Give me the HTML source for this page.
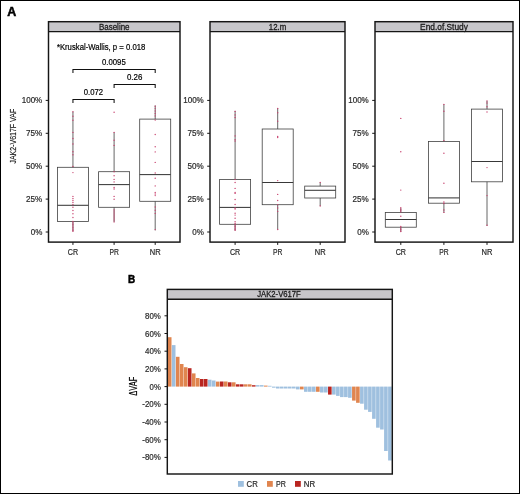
<!DOCTYPE html>
<html><head><meta charset="utf-8"><style>
html,body{margin:0;padding:0;background:#fff;width:520px;height:494px;overflow:hidden;}
svg{display:block;will-change:transform;}
</style></head><body>
<svg width="520" height="494" viewBox="0 0 520 494"><rect x="0.5" y="0.5" width="519" height="493" fill="none" stroke="#000" stroke-width="1"/>
<text x="7.3" y="15.6" font-family='"Liberation Sans", sans-serif' font-weight="bold" font-size="12.2" fill="#000" stroke="#000" stroke-width="0.5" textLength="9.0" lengthAdjust="spacingAndGlyphs">A</text>
<text x="128.0" y="282.6" font-family='"Liberation Sans", sans-serif' font-weight="bold" font-size="11" fill="#000" stroke="#000" stroke-width="0.5" textLength="7.2" lengthAdjust="spacingAndGlyphs">B</text>
<rect x="48.5" y="21.7" width="131.5" height="9.8" fill="#c7c6ca"/>
<line x1="48.5" y1="31.5" x2="180" y2="31.5" stroke="#151515" stroke-width="1.25"/>
<text x="114.25" y="29.7" text-anchor="middle" font-family='"Liberation Sans", sans-serif' font-size="8.8" fill="#1a1a1a" stroke="#1a1a1a" stroke-width="0.28" textLength="30.6" lengthAdjust="spacingAndGlyphs">Baseline</text>
<rect x="48.5" y="21.7" width="131.5" height="220.4" fill="none" stroke="#151515" stroke-width="1.45"/>
<line x1="45.7" y1="100.4" x2="48.5" y2="100.4" stroke="#151515" stroke-width="1"/>
<text x="42.3" y="103.4" text-anchor="end" font-family='"Liberation Sans", sans-serif' font-size="8.2" fill="#2a2a2a" textLength="20.6" lengthAdjust="spacingAndGlyphs" stroke="#2a2a2a" stroke-width="0.2">100%</text>
<line x1="45.7" y1="133.3" x2="48.5" y2="133.3" stroke="#151515" stroke-width="1"/>
<text x="42.3" y="136.3" text-anchor="end" font-family='"Liberation Sans", sans-serif' font-size="8.2" fill="#2a2a2a" textLength="16.2" lengthAdjust="spacingAndGlyphs" stroke="#2a2a2a" stroke-width="0.2">75%</text>
<line x1="45.7" y1="166.2" x2="48.5" y2="166.2" stroke="#151515" stroke-width="1"/>
<text x="42.3" y="169.2" text-anchor="end" font-family='"Liberation Sans", sans-serif' font-size="8.2" fill="#2a2a2a" textLength="16.2" lengthAdjust="spacingAndGlyphs" stroke="#2a2a2a" stroke-width="0.2">50%</text>
<line x1="45.7" y1="199.1" x2="48.5" y2="199.1" stroke="#151515" stroke-width="1"/>
<text x="42.3" y="202.1" text-anchor="end" font-family='"Liberation Sans", sans-serif' font-size="8.2" fill="#2a2a2a" textLength="16.2" lengthAdjust="spacingAndGlyphs" stroke="#2a2a2a" stroke-width="0.2">25%</text>
<line x1="45.7" y1="232.0" x2="48.5" y2="232.0" stroke="#151515" stroke-width="1"/>
<text x="42.3" y="235.0" text-anchor="end" font-family='"Liberation Sans", sans-serif' font-size="8.2" fill="#2a2a2a" textLength="11.6" lengthAdjust="spacingAndGlyphs" stroke="#2a2a2a" stroke-width="0.2">0%</text>
<line x1="72.95" y1="242.1" x2="72.95" y2="244.9" stroke="#151515" stroke-width="1"/>
<text x="72.95" y="255.3" text-anchor="middle" font-family='"Liberation Sans", sans-serif' font-size="8.4" fill="#2a2a2a" textLength="10.3" lengthAdjust="spacingAndGlyphs" stroke="#2a2a2a" stroke-width="0.2">CR</text>
<line x1="114.1" y1="242.1" x2="114.1" y2="244.9" stroke="#151515" stroke-width="1"/>
<text x="114.1" y="255.3" text-anchor="middle" font-family='"Liberation Sans", sans-serif' font-size="8.4" fill="#2a2a2a" textLength="9.4" lengthAdjust="spacingAndGlyphs" stroke="#2a2a2a" stroke-width="0.2">PR</text>
<line x1="155.2" y1="242.1" x2="155.2" y2="244.9" stroke="#151515" stroke-width="1"/>
<text x="155.2" y="255.3" text-anchor="middle" font-family='"Liberation Sans", sans-serif' font-size="8.4" fill="#2a2a2a" textLength="10.9" lengthAdjust="spacingAndGlyphs" stroke="#2a2a2a" stroke-width="0.2">NR</text>
<rect x="210" y="21.7" width="135" height="9.8" fill="#c7c6ca"/>
<line x1="210" y1="31.5" x2="345" y2="31.5" stroke="#151515" stroke-width="1.25"/>
<text x="277.5" y="29.7" text-anchor="middle" font-family='"Liberation Sans", sans-serif' font-size="8.8" fill="#1a1a1a" stroke="#1a1a1a" stroke-width="0.28" textLength="17.4" lengthAdjust="spacingAndGlyphs">12.m</text>
<rect x="210" y="21.7" width="135" height="220.4" fill="none" stroke="#151515" stroke-width="1.45"/>
<line x1="207.2" y1="100.4" x2="210" y2="100.4" stroke="#151515" stroke-width="1"/>
<text x="203.8" y="103.4" text-anchor="end" font-family='"Liberation Sans", sans-serif' font-size="8.2" fill="#2a2a2a" textLength="20.6" lengthAdjust="spacingAndGlyphs" stroke="#2a2a2a" stroke-width="0.2">100%</text>
<line x1="207.2" y1="133.3" x2="210" y2="133.3" stroke="#151515" stroke-width="1"/>
<text x="203.8" y="136.3" text-anchor="end" font-family='"Liberation Sans", sans-serif' font-size="8.2" fill="#2a2a2a" textLength="16.2" lengthAdjust="spacingAndGlyphs" stroke="#2a2a2a" stroke-width="0.2">75%</text>
<line x1="207.2" y1="166.2" x2="210" y2="166.2" stroke="#151515" stroke-width="1"/>
<text x="203.8" y="169.2" text-anchor="end" font-family='"Liberation Sans", sans-serif' font-size="8.2" fill="#2a2a2a" textLength="16.2" lengthAdjust="spacingAndGlyphs" stroke="#2a2a2a" stroke-width="0.2">50%</text>
<line x1="207.2" y1="199.1" x2="210" y2="199.1" stroke="#151515" stroke-width="1"/>
<text x="203.8" y="202.1" text-anchor="end" font-family='"Liberation Sans", sans-serif' font-size="8.2" fill="#2a2a2a" textLength="16.2" lengthAdjust="spacingAndGlyphs" stroke="#2a2a2a" stroke-width="0.2">25%</text>
<line x1="207.2" y1="232.0" x2="210" y2="232.0" stroke="#151515" stroke-width="1"/>
<text x="203.8" y="235.0" text-anchor="end" font-family='"Liberation Sans", sans-serif' font-size="8.2" fill="#2a2a2a" textLength="11.6" lengthAdjust="spacingAndGlyphs" stroke="#2a2a2a" stroke-width="0.2">0%</text>
<line x1="235.1" y1="242.1" x2="235.1" y2="244.9" stroke="#151515" stroke-width="1"/>
<text x="235.1" y="255.3" text-anchor="middle" font-family='"Liberation Sans", sans-serif' font-size="8.4" fill="#2a2a2a" textLength="10.3" lengthAdjust="spacingAndGlyphs" stroke="#2a2a2a" stroke-width="0.2">CR</text>
<line x1="277.7" y1="242.1" x2="277.7" y2="244.9" stroke="#151515" stroke-width="1"/>
<text x="277.7" y="255.3" text-anchor="middle" font-family='"Liberation Sans", sans-serif' font-size="8.4" fill="#2a2a2a" textLength="9.4" lengthAdjust="spacingAndGlyphs" stroke="#2a2a2a" stroke-width="0.2">PR</text>
<line x1="320.2" y1="242.1" x2="320.2" y2="244.9" stroke="#151515" stroke-width="1"/>
<text x="320.2" y="255.3" text-anchor="middle" font-family='"Liberation Sans", sans-serif' font-size="8.4" fill="#2a2a2a" textLength="10.9" lengthAdjust="spacingAndGlyphs" stroke="#2a2a2a" stroke-width="0.2">NR</text>
<rect x="375" y="21.7" width="138" height="9.8" fill="#c7c6ca"/>
<line x1="375" y1="31.5" x2="513" y2="31.5" stroke="#151515" stroke-width="1.25"/>
<text x="444.0" y="29.7" text-anchor="middle" font-family='"Liberation Sans", sans-serif' font-size="8.8" fill="#1a1a1a" stroke="#1a1a1a" stroke-width="0.28" textLength="47.8" lengthAdjust="spacingAndGlyphs">End.of.Study</text>
<rect x="375" y="21.7" width="138" height="220.4" fill="none" stroke="#151515" stroke-width="1.45"/>
<line x1="372.2" y1="100.4" x2="375" y2="100.4" stroke="#151515" stroke-width="1"/>
<text x="368.8" y="103.4" text-anchor="end" font-family='"Liberation Sans", sans-serif' font-size="8.2" fill="#2a2a2a" textLength="20.6" lengthAdjust="spacingAndGlyphs" stroke="#2a2a2a" stroke-width="0.2">100%</text>
<line x1="372.2" y1="133.3" x2="375" y2="133.3" stroke="#151515" stroke-width="1"/>
<text x="368.8" y="136.3" text-anchor="end" font-family='"Liberation Sans", sans-serif' font-size="8.2" fill="#2a2a2a" textLength="16.2" lengthAdjust="spacingAndGlyphs" stroke="#2a2a2a" stroke-width="0.2">75%</text>
<line x1="372.2" y1="166.2" x2="375" y2="166.2" stroke="#151515" stroke-width="1"/>
<text x="368.8" y="169.2" text-anchor="end" font-family='"Liberation Sans", sans-serif' font-size="8.2" fill="#2a2a2a" textLength="16.2" lengthAdjust="spacingAndGlyphs" stroke="#2a2a2a" stroke-width="0.2">50%</text>
<line x1="372.2" y1="199.1" x2="375" y2="199.1" stroke="#151515" stroke-width="1"/>
<text x="368.8" y="202.1" text-anchor="end" font-family='"Liberation Sans", sans-serif' font-size="8.2" fill="#2a2a2a" textLength="16.2" lengthAdjust="spacingAndGlyphs" stroke="#2a2a2a" stroke-width="0.2">25%</text>
<line x1="372.2" y1="232.0" x2="375" y2="232.0" stroke="#151515" stroke-width="1"/>
<text x="368.8" y="235.0" text-anchor="end" font-family='"Liberation Sans", sans-serif' font-size="8.2" fill="#2a2a2a" textLength="11.6" lengthAdjust="spacingAndGlyphs" stroke="#2a2a2a" stroke-width="0.2">0%</text>
<line x1="400.8" y1="242.1" x2="400.8" y2="244.9" stroke="#151515" stroke-width="1"/>
<text x="400.8" y="255.3" text-anchor="middle" font-family='"Liberation Sans", sans-serif' font-size="8.4" fill="#2a2a2a" textLength="10.3" lengthAdjust="spacingAndGlyphs" stroke="#2a2a2a" stroke-width="0.2">CR</text>
<line x1="443.9" y1="242.1" x2="443.9" y2="244.9" stroke="#151515" stroke-width="1"/>
<text x="443.9" y="255.3" text-anchor="middle" font-family='"Liberation Sans", sans-serif' font-size="8.4" fill="#2a2a2a" textLength="9.4" lengthAdjust="spacingAndGlyphs" stroke="#2a2a2a" stroke-width="0.2">PR</text>
<line x1="487.0" y1="242.1" x2="487.0" y2="244.9" stroke="#151515" stroke-width="1"/>
<text x="487.0" y="255.3" text-anchor="middle" font-family='"Liberation Sans", sans-serif' font-size="8.4" fill="#2a2a2a" textLength="10.9" lengthAdjust="spacingAndGlyphs" stroke="#2a2a2a" stroke-width="0.2">NR</text>
<text transform="translate(15.5,136.2) rotate(-90)" text-anchor="middle" font-family='"Liberation Sans", sans-serif' font-size="9.6" fill="#1a1a1a" stroke="#1a1a1a" stroke-width="0.2" textLength="54.8" lengthAdjust="spacingAndGlyphs">JAK2-V617F VAF</text>
<line x1="72.95" y1="111.7" x2="72.95" y2="167.3" stroke="#404040" stroke-width="0.8"/>
<line x1="72.95" y1="221.5" x2="72.95" y2="231.3" stroke="#404040" stroke-width="0.8"/>
<rect x="57.45" y="167.3" width="31.00" height="54.20" fill="none" stroke="#404040" stroke-width="0.8"/>
<line x1="57.45" y1="205.3" x2="88.45" y2="205.3" stroke="#383838" stroke-width="1.05"/>
<circle cx="72.95" cy="111.7" r="0.7" fill="#c8436f"/>
<circle cx="72.95" cy="116.2" r="0.7" fill="#c8436f"/>
<circle cx="72.95" cy="120.2" r="0.7" fill="#c8436f"/>
<circle cx="72.95" cy="132.4" r="0.7" fill="#c8436f"/>
<circle cx="72.95" cy="138.5" r="0.7" fill="#c8436f"/>
<circle cx="72.95" cy="144.0" r="0.7" fill="#c8436f"/>
<circle cx="72.95" cy="151.8" r="0.7" fill="#c8436f"/>
<circle cx="72.95" cy="154.7" r="0.7" fill="#c8436f"/>
<circle cx="72.95" cy="166.4" r="0.7" fill="#c8436f"/>
<circle cx="72.95" cy="172.6" r="0.7" fill="#c8436f"/>
<circle cx="72.95" cy="196.4" r="0.7" fill="#c8436f"/>
<circle cx="72.95" cy="198.5" r="0.7" fill="#c8436f"/>
<circle cx="72.95" cy="200.5" r="0.7" fill="#c8436f"/>
<circle cx="72.95" cy="202.4" r="0.7" fill="#c8436f"/>
<circle cx="72.95" cy="204.5" r="0.7" fill="#c8436f"/>
<circle cx="72.95" cy="207.3" r="0.7" fill="#c8436f"/>
<circle cx="72.95" cy="210.5" r="0.7" fill="#c8436f"/>
<circle cx="72.95" cy="213.8" r="0.7" fill="#c8436f"/>
<circle cx="72.95" cy="217.5" r="0.7" fill="#c8436f"/>
<circle cx="72.95" cy="221.5" r="0.7" fill="#c8436f"/>
<circle cx="72.95" cy="223" r="0.7" fill="#c8436f"/>
<circle cx="72.95" cy="224.5" r="0.7" fill="#c8436f"/>
<circle cx="72.95" cy="226" r="0.7" fill="#c8436f"/>
<circle cx="72.95" cy="227.5" r="0.7" fill="#c8436f"/>
<circle cx="72.95" cy="229" r="0.7" fill="#c8436f"/>
<circle cx="72.95" cy="230.3" r="0.7" fill="#c8436f"/>
<circle cx="72.95" cy="231.3" r="0.7" fill="#c8436f"/>
<line x1="114.1" y1="132.4" x2="114.1" y2="171.7" stroke="#404040" stroke-width="0.8"/>
<line x1="114.1" y1="207.3" x2="114.1" y2="221.9" stroke="#404040" stroke-width="0.8"/>
<rect x="98.60" y="171.7" width="31.00" height="35.60" fill="none" stroke="#404040" stroke-width="0.8"/>
<line x1="98.60" y1="184.6" x2="129.60" y2="184.6" stroke="#383838" stroke-width="1.05"/>
<circle cx="114.10" cy="112.2" r="0.7" fill="#c8436f"/>
<circle cx="114.10" cy="132.4" r="0.7" fill="#c8436f"/>
<circle cx="114.10" cy="140.2" r="0.7" fill="#c8436f"/>
<circle cx="114.10" cy="145.4" r="0.7" fill="#c8436f"/>
<circle cx="114.10" cy="171.7" r="0.7" fill="#c8436f"/>
<circle cx="114.10" cy="175.7" r="0.7" fill="#c8436f"/>
<circle cx="114.10" cy="179.4" r="0.7" fill="#c8436f"/>
<circle cx="114.10" cy="181.9" r="0.7" fill="#c8436f"/>
<circle cx="114.10" cy="187.5" r="0.7" fill="#c8436f"/>
<circle cx="114.10" cy="189" r="0.7" fill="#c8436f"/>
<circle cx="114.10" cy="196.4" r="0.7" fill="#c8436f"/>
<circle cx="114.10" cy="199.2" r="0.7" fill="#c8436f"/>
<circle cx="114.10" cy="210" r="0.7" fill="#c8436f"/>
<circle cx="114.10" cy="212" r="0.7" fill="#c8436f"/>
<circle cx="114.10" cy="214" r="0.7" fill="#c8436f"/>
<circle cx="114.10" cy="216" r="0.7" fill="#c8436f"/>
<circle cx="114.10" cy="218" r="0.7" fill="#c8436f"/>
<circle cx="114.10" cy="220" r="0.7" fill="#c8436f"/>
<circle cx="114.10" cy="221.9" r="0.7" fill="#c8436f"/>
<line x1="155.2" y1="105.4" x2="155.2" y2="119.1" stroke="#404040" stroke-width="0.8"/>
<line x1="155.2" y1="201.3" x2="155.2" y2="230.4" stroke="#404040" stroke-width="0.8"/>
<rect x="139.70" y="119.1" width="31.00" height="82.20" fill="none" stroke="#404040" stroke-width="0.8"/>
<line x1="139.70" y1="174.6" x2="170.70" y2="174.6" stroke="#383838" stroke-width="1.05"/>
<circle cx="155.20" cy="106.2" r="0.7" fill="#c8436f"/>
<circle cx="155.20" cy="108.6" r="0.7" fill="#c8436f"/>
<circle cx="155.20" cy="111" r="0.7" fill="#c8436f"/>
<circle cx="155.20" cy="113.5" r="0.7" fill="#c8436f"/>
<circle cx="155.20" cy="115.9" r="0.7" fill="#c8436f"/>
<circle cx="155.20" cy="120" r="0.7" fill="#c8436f"/>
<circle cx="155.20" cy="134.5" r="0.7" fill="#c8436f"/>
<circle cx="155.20" cy="146.7" r="0.7" fill="#c8436f"/>
<circle cx="155.20" cy="151.9" r="0.7" fill="#c8436f"/>
<circle cx="155.20" cy="162.4" r="0.7" fill="#c8436f"/>
<circle cx="155.20" cy="173" r="0.7" fill="#c8436f"/>
<circle cx="155.20" cy="178.3" r="0.7" fill="#c8436f"/>
<circle cx="155.20" cy="185.9" r="0.7" fill="#c8436f"/>
<circle cx="155.20" cy="192.4" r="0.7" fill="#c8436f"/>
<circle cx="155.20" cy="194" r="0.7" fill="#c8436f"/>
<circle cx="155.20" cy="195.6" r="0.7" fill="#c8436f"/>
<circle cx="155.20" cy="207" r="0.7" fill="#c8436f"/>
<circle cx="155.20" cy="210.2" r="0.7" fill="#c8436f"/>
<circle cx="155.20" cy="213.4" r="0.7" fill="#c8436f"/>
<circle cx="155.20" cy="229.6" r="0.7" fill="#c8436f"/>
<line x1="235.1" y1="110.8" x2="235.1" y2="179.5" stroke="#404040" stroke-width="0.8"/>
<line x1="235.1" y1="224.3" x2="235.1" y2="230.5" stroke="#404040" stroke-width="0.8"/>
<rect x="219.60" y="179.5" width="31.00" height="44.80" fill="none" stroke="#404040" stroke-width="0.8"/>
<line x1="219.60" y1="207.4" x2="250.60" y2="207.4" stroke="#383838" stroke-width="1.05"/>
<circle cx="235.10" cy="111.4" r="0.7" fill="#c8436f"/>
<circle cx="235.10" cy="114.9" r="0.7" fill="#c8436f"/>
<circle cx="235.10" cy="117.5" r="0.7" fill="#c8436f"/>
<circle cx="235.10" cy="135.9" r="0.7" fill="#c8436f"/>
<circle cx="235.10" cy="139.7" r="0.7" fill="#c8436f"/>
<circle cx="235.10" cy="141.1" r="0.7" fill="#c8436f"/>
<circle cx="235.10" cy="179.5" r="0.7" fill="#c8436f"/>
<circle cx="235.10" cy="182.5" r="0.7" fill="#c8436f"/>
<circle cx="235.10" cy="188.4" r="0.7" fill="#c8436f"/>
<circle cx="235.10" cy="192.4" r="0.7" fill="#c8436f"/>
<circle cx="235.10" cy="193.4" r="0.7" fill="#c8436f"/>
<circle cx="235.10" cy="199.5" r="0.7" fill="#c8436f"/>
<circle cx="235.10" cy="204.5" r="0.7" fill="#c8436f"/>
<circle cx="235.10" cy="208" r="0.7" fill="#c8436f"/>
<circle cx="235.10" cy="209" r="0.7" fill="#c8436f"/>
<circle cx="235.10" cy="213.3" r="0.7" fill="#c8436f"/>
<circle cx="235.10" cy="215.1" r="0.7" fill="#c8436f"/>
<circle cx="235.10" cy="218.2" r="0.7" fill="#c8436f"/>
<circle cx="235.10" cy="221.8" r="0.7" fill="#c8436f"/>
<circle cx="235.10" cy="223.5" r="0.7" fill="#c8436f"/>
<circle cx="235.10" cy="225" r="0.7" fill="#c8436f"/>
<circle cx="235.10" cy="226.5" r="0.7" fill="#c8436f"/>
<circle cx="235.10" cy="228" r="0.7" fill="#c8436f"/>
<circle cx="235.10" cy="229.3" r="0.7" fill="#c8436f"/>
<circle cx="235.10" cy="230.3" r="0.7" fill="#c8436f"/>
<line x1="277.7" y1="108.2" x2="277.7" y2="129" stroke="#404040" stroke-width="0.8"/>
<line x1="277.7" y1="204.7" x2="277.7" y2="229.5" stroke="#404040" stroke-width="0.8"/>
<rect x="262.20" y="129" width="31.00" height="75.70" fill="none" stroke="#404040" stroke-width="0.8"/>
<line x1="262.20" y1="182.5" x2="293.20" y2="182.5" stroke="#383838" stroke-width="1.05"/>
<circle cx="277.70" cy="108.5" r="0.7" fill="#c8436f"/>
<circle cx="277.70" cy="112.7" r="0.7" fill="#c8436f"/>
<circle cx="277.70" cy="121.2" r="0.7" fill="#c8436f"/>
<circle cx="277.70" cy="136.5" r="0.7" fill="#c8436f"/>
<circle cx="277.70" cy="137.5" r="0.7" fill="#c8436f"/>
<circle cx="277.70" cy="180.6" r="0.7" fill="#c8436f"/>
<circle cx="277.70" cy="194.4" r="0.7" fill="#c8436f"/>
<circle cx="277.70" cy="200.5" r="0.7" fill="#c8436f"/>
<circle cx="277.70" cy="204.7" r="0.7" fill="#c8436f"/>
<circle cx="277.70" cy="208" r="0.7" fill="#c8436f"/>
<circle cx="277.70" cy="211.4" r="0.7" fill="#c8436f"/>
<circle cx="277.70" cy="229.5" r="0.7" fill="#c8436f"/>
<line x1="320.2" y1="182.4" x2="320.2" y2="186.1" stroke="#404040" stroke-width="0.8"/>
<line x1="320.2" y1="198.0" x2="320.2" y2="206" stroke="#404040" stroke-width="0.8"/>
<rect x="304.70" y="186.1" width="31.00" height="11.90" fill="none" stroke="#404040" stroke-width="0.8"/>
<line x1="304.70" y1="190.3" x2="335.70" y2="190.3" stroke="#383838" stroke-width="1.05"/>
<circle cx="320.20" cy="182.4" r="0.7" fill="#c8436f"/>
<circle cx="320.20" cy="206" r="0.7" fill="#c8436f"/>
<line x1="400.8" y1="208.2" x2="400.8" y2="212.5" stroke="#404040" stroke-width="0.8"/>
<line x1="400.8" y1="227.2" x2="400.8" y2="231.6" stroke="#404040" stroke-width="0.8"/>
<rect x="385.30" y="212.5" width="31.00" height="14.70" fill="none" stroke="#404040" stroke-width="0.8"/>
<line x1="385.30" y1="219.5" x2="416.30" y2="219.5" stroke="#383838" stroke-width="1.05"/>
<circle cx="400.80" cy="118.4" r="0.7" fill="#c8436f"/>
<circle cx="400.80" cy="151.8" r="0.7" fill="#c8436f"/>
<circle cx="400.80" cy="190.1" r="0.7" fill="#c8436f"/>
<circle cx="400.80" cy="207.8" r="0.7" fill="#c8436f"/>
<circle cx="400.80" cy="209.2" r="0.7" fill="#c8436f"/>
<circle cx="400.80" cy="210.6" r="0.7" fill="#c8436f"/>
<circle cx="400.80" cy="211.9" r="0.7" fill="#c8436f"/>
<circle cx="400.80" cy="216.3" r="0.7" fill="#c8436f"/>
<circle cx="400.80" cy="226.5" r="0.7" fill="#c8436f"/>
<circle cx="400.80" cy="228" r="0.7" fill="#c8436f"/>
<circle cx="400.80" cy="229.5" r="0.7" fill="#c8436f"/>
<circle cx="400.80" cy="231" r="0.7" fill="#c8436f"/>
<circle cx="400.80" cy="231.6" r="0.7" fill="#c8436f"/>
<line x1="443.9" y1="104.4" x2="443.9" y2="141.5" stroke="#404040" stroke-width="0.8"/>
<line x1="443.9" y1="203.2" x2="443.9" y2="212.6" stroke="#404040" stroke-width="0.8"/>
<rect x="428.40" y="141.5" width="31.00" height="61.70" fill="none" stroke="#404040" stroke-width="0.8"/>
<line x1="428.40" y1="197.9" x2="459.40" y2="197.9" stroke="#383838" stroke-width="1.05"/>
<circle cx="443.90" cy="104.4" r="0.7" fill="#c8436f"/>
<circle cx="443.90" cy="111.2" r="0.7" fill="#c8436f"/>
<circle cx="443.90" cy="140.6" r="0.7" fill="#c8436f"/>
<circle cx="443.90" cy="153.2" r="0.7" fill="#c8436f"/>
<circle cx="443.90" cy="183.3" r="0.7" fill="#c8436f"/>
<circle cx="443.90" cy="202" r="0.7" fill="#c8436f"/>
<circle cx="443.90" cy="203.5" r="0.7" fill="#c8436f"/>
<circle cx="443.90" cy="210" r="0.7" fill="#c8436f"/>
<circle cx="443.90" cy="212.4" r="0.7" fill="#c8436f"/>
<line x1="487.0" y1="100.9" x2="487.0" y2="109.1" stroke="#404040" stroke-width="0.8"/>
<line x1="487.0" y1="181.8" x2="487.0" y2="225.9" stroke="#404040" stroke-width="0.8"/>
<rect x="471.50" y="109.1" width="31.00" height="72.70" fill="none" stroke="#404040" stroke-width="0.8"/>
<line x1="471.50" y1="161.5" x2="502.50" y2="161.5" stroke="#383838" stroke-width="1.05"/>
<circle cx="487.00" cy="100.9" r="0.7" fill="#c8436f"/>
<circle cx="487.00" cy="103" r="0.7" fill="#c8436f"/>
<circle cx="487.00" cy="106.8" r="0.7" fill="#c8436f"/>
<circle cx="487.00" cy="112" r="0.7" fill="#c8436f"/>
<circle cx="487.00" cy="167.6" r="0.7" fill="#c8436f"/>
<circle cx="487.00" cy="195.6" r="0.7" fill="#c8436f"/>
<circle cx="487.00" cy="225.3" r="0.7" fill="#c8436f"/>
<text x="56.9" y="49.9" font-family='"Liberation Sans", sans-serif' font-size="8.5" fill="#000" textLength="88.4" lengthAdjust="spacingAndGlyphs" stroke="#000" stroke-width="0.2">*Kruskal-Wallis, p = 0.018</text>
<path d="M72.95,73.0 V69.5 H155.2 V73.0" fill="none" stroke="#111" stroke-width="1.05"/>
<text x="113.9" y="64.6" text-anchor="middle" font-family='"Liberation Sans", sans-serif' font-size="8.4" fill="#000" textLength="23.7" lengthAdjust="spacingAndGlyphs" stroke="#000" stroke-width="0.2">0.0095</text>
<path d="M114.1,88.0 V84.5 H155.2 V88.0" fill="none" stroke="#111" stroke-width="1.05"/>
<text x="134.6" y="79.6" text-anchor="middle" font-family='"Liberation Sans", sans-serif' font-size="8.4" fill="#000" textLength="15.4" lengthAdjust="spacingAndGlyphs" stroke="#000" stroke-width="0.2">0.26</text>
<path d="M72.95,103.0 V99.5 H114.1 V103.0" fill="none" stroke="#111" stroke-width="1.05"/>
<text x="93.4" y="94.6" text-anchor="middle" font-family='"Liberation Sans", sans-serif' font-size="8.4" fill="#000" textLength="19.3" lengthAdjust="spacingAndGlyphs" stroke="#000" stroke-width="0.2">0.072</text>
<rect x="167.3" y="289.4" width="225.0" height="9.700000000000045" fill="#c7c6ca"/>
<text x="279.0" y="296.8" text-anchor="middle" font-family='"Liberation Sans", sans-serif' font-size="8.6" fill="#1a1a1a" stroke="#1a1a1a" stroke-width="0.28" textLength="43.6" lengthAdjust="spacingAndGlyphs">JAK2-V617F</text>
<rect x="167.90" y="337.20" width="3.60" height="49.40" fill="#e0854f"/>
<rect x="171.90" y="345.10" width="3.60" height="41.50" fill="#9fc0df"/>
<rect x="175.91" y="356.80" width="3.60" height="29.80" fill="#e0854f"/>
<rect x="179.91" y="364.00" width="3.60" height="22.60" fill="#e0854f"/>
<rect x="183.91" y="367.20" width="3.60" height="19.40" fill="#e0854f"/>
<rect x="187.92" y="368.20" width="3.60" height="18.40" fill="#b92520"/>
<rect x="191.92" y="373.40" width="3.60" height="13.20" fill="#e0854f"/>
<rect x="195.93" y="378.00" width="3.60" height="8.60" fill="#e0854f"/>
<rect x="199.93" y="379.00" width="3.60" height="7.60" fill="#b92520"/>
<rect x="203.93" y="379.00" width="3.60" height="7.60" fill="#b92520"/>
<rect x="207.94" y="379.70" width="3.60" height="6.90" fill="#9fc0df"/>
<rect x="211.94" y="380.50" width="3.60" height="6.10" fill="#9fc0df"/>
<rect x="215.94" y="381.60" width="3.60" height="5.00" fill="#e0854f"/>
<rect x="219.95" y="381.50" width="3.60" height="5.10" fill="#b92520"/>
<rect x="223.95" y="381.50" width="3.60" height="5.10" fill="#e0854f"/>
<rect x="227.95" y="382.30" width="3.60" height="4.30" fill="#b92520"/>
<rect x="231.96" y="382.30" width="3.60" height="4.30" fill="#e0854f"/>
<rect x="235.96" y="384.30" width="3.60" height="2.30" fill="#b92520"/>
<rect x="239.96" y="384.30" width="3.60" height="2.30" fill="#b92520"/>
<rect x="243.97" y="384.30" width="3.60" height="2.30" fill="#e0854f"/>
<rect x="247.97" y="384.30" width="3.60" height="2.30" fill="#e0854f"/>
<rect x="251.98" y="385.20" width="3.60" height="1.40" fill="#b92520"/>
<rect x="255.98" y="385.10" width="3.60" height="1.50" fill="#9fc0df"/>
<rect x="259.98" y="385.10" width="3.60" height="1.50" fill="#9fc0df"/>
<rect x="263.99" y="385.60" width="3.60" height="1.00" fill="#e0854f"/>
<rect x="267.99" y="385.80" width="3.60" height="0.80" fill="#9fc0df"/>
<rect x="271.99" y="386.60" width="3.60" height="1.10" fill="#9fc0df"/>
<rect x="276.00" y="386.60" width="3.60" height="1.90" fill="#9fc0df"/>
<rect x="280.00" y="386.60" width="3.60" height="1.90" fill="#9fc0df"/>
<rect x="284.00" y="386.60" width="3.60" height="1.90" fill="#9fc0df"/>
<rect x="288.01" y="386.60" width="3.60" height="1.90" fill="#9fc0df"/>
<rect x="292.01" y="386.60" width="3.60" height="1.90" fill="#9fc0df"/>
<rect x="296.01" y="386.60" width="3.60" height="2.80" fill="#9fc0df"/>
<rect x="300.02" y="386.60" width="3.60" height="2.80" fill="#e0854f"/>
<rect x="304.02" y="386.60" width="3.60" height="5.20" fill="#9fc0df"/>
<rect x="308.03" y="386.60" width="3.60" height="5.20" fill="#9fc0df"/>
<rect x="312.03" y="386.60" width="3.60" height="5.20" fill="#9fc0df"/>
<rect x="316.03" y="386.60" width="3.60" height="5.20" fill="#e0854f"/>
<rect x="320.04" y="386.60" width="3.60" height="5.90" fill="#9fc0df"/>
<rect x="324.04" y="386.60" width="3.60" height="5.90" fill="#9fc0df"/>
<rect x="328.04" y="386.60" width="3.60" height="8.00" fill="#b92520"/>
<rect x="332.05" y="386.60" width="3.60" height="8.00" fill="#9fc0df"/>
<rect x="336.05" y="386.60" width="3.60" height="9.30" fill="#9fc0df"/>
<rect x="340.05" y="386.60" width="3.60" height="10.50" fill="#9fc0df"/>
<rect x="344.06" y="386.60" width="3.60" height="10.50" fill="#9fc0df"/>
<rect x="348.06" y="386.60" width="3.60" height="11.20" fill="#9fc0df"/>
<rect x="352.06" y="386.60" width="3.60" height="14.00" fill="#e0854f"/>
<rect x="356.07" y="386.60" width="3.60" height="16.20" fill="#e0854f"/>
<rect x="360.07" y="386.60" width="3.60" height="17.10" fill="#9fc0df"/>
<rect x="364.07" y="386.60" width="3.60" height="23.10" fill="#9fc0df"/>
<rect x="368.08" y="386.60" width="3.60" height="25.30" fill="#9fc0df"/>
<rect x="372.08" y="386.60" width="3.60" height="32.20" fill="#9fc0df"/>
<rect x="376.09" y="386.60" width="3.60" height="41.10" fill="#9fc0df"/>
<rect x="380.09" y="386.60" width="3.60" height="42.90" fill="#9fc0df"/>
<rect x="384.09" y="386.60" width="3.60" height="64.40" fill="#9fc0df"/>
<rect x="388.10" y="386.60" width="3.60" height="73.90" fill="#9fc0df"/>
<line x1="167.3" y1="299.20000000000005" x2="392.3" y2="299.20000000000005" stroke="#151515" stroke-width="1.4"/>
<rect x="167.3" y="289.4" width="225.0" height="184.60000000000002" fill="none" stroke="#151515" stroke-width="1.45"/>
<line x1="164.5" y1="315.8" x2="167.3" y2="315.8" stroke="#151515" stroke-width="1"/>
<text x="160.8" y="318.8" text-anchor="end" font-family='"Liberation Sans", sans-serif' font-size="8.2" fill="#2a2a2a" textLength="15.8" lengthAdjust="spacingAndGlyphs" stroke="#2a2a2a" stroke-width="0.2">80%</text>
<line x1="164.5" y1="333.5" x2="167.3" y2="333.5" stroke="#151515" stroke-width="1"/>
<text x="160.8" y="336.5" text-anchor="end" font-family='"Liberation Sans", sans-serif' font-size="8.2" fill="#2a2a2a" textLength="15.8" lengthAdjust="spacingAndGlyphs" stroke="#2a2a2a" stroke-width="0.2">60%</text>
<line x1="164.5" y1="351.20000000000005" x2="167.3" y2="351.20000000000005" stroke="#151515" stroke-width="1"/>
<text x="160.8" y="354.20000000000005" text-anchor="end" font-family='"Liberation Sans", sans-serif' font-size="8.2" fill="#2a2a2a" textLength="15.8" lengthAdjust="spacingAndGlyphs" stroke="#2a2a2a" stroke-width="0.2">40%</text>
<line x1="164.5" y1="368.90000000000003" x2="167.3" y2="368.90000000000003" stroke="#151515" stroke-width="1"/>
<text x="160.8" y="371.90000000000003" text-anchor="end" font-family='"Liberation Sans", sans-serif' font-size="8.2" fill="#2a2a2a" textLength="15.8" lengthAdjust="spacingAndGlyphs" stroke="#2a2a2a" stroke-width="0.2">20%</text>
<line x1="164.5" y1="386.6" x2="167.3" y2="386.6" stroke="#151515" stroke-width="1"/>
<text x="160.8" y="389.6" text-anchor="end" font-family='"Liberation Sans", sans-serif' font-size="8.2" fill="#2a2a2a" textLength="11.2" lengthAdjust="spacingAndGlyphs" stroke="#2a2a2a" stroke-width="0.2">0%</text>
<line x1="164.5" y1="404.3" x2="167.3" y2="404.3" stroke="#151515" stroke-width="1"/>
<text x="160.8" y="407.3" text-anchor="end" font-family='"Liberation Sans", sans-serif' font-size="8.2" fill="#2a2a2a" textLength="18.5" lengthAdjust="spacingAndGlyphs" stroke="#2a2a2a" stroke-width="0.2">-20%</text>
<line x1="164.5" y1="422.0" x2="167.3" y2="422.0" stroke="#151515" stroke-width="1"/>
<text x="160.8" y="425.0" text-anchor="end" font-family='"Liberation Sans", sans-serif' font-size="8.2" fill="#2a2a2a" textLength="18.5" lengthAdjust="spacingAndGlyphs" stroke="#2a2a2a" stroke-width="0.2">-40%</text>
<line x1="164.5" y1="439.70000000000005" x2="167.3" y2="439.70000000000005" stroke="#151515" stroke-width="1"/>
<text x="160.8" y="442.70000000000005" text-anchor="end" font-family='"Liberation Sans", sans-serif' font-size="8.2" fill="#2a2a2a" textLength="18.5" lengthAdjust="spacingAndGlyphs" stroke="#2a2a2a" stroke-width="0.2">-60%</text>
<line x1="164.5" y1="457.40000000000003" x2="167.3" y2="457.40000000000003" stroke="#151515" stroke-width="1"/>
<text x="160.8" y="460.40000000000003" text-anchor="end" font-family='"Liberation Sans", sans-serif' font-size="8.2" fill="#2a2a2a" textLength="18.5" lengthAdjust="spacingAndGlyphs" stroke="#2a2a2a" stroke-width="0.2">-80%</text>
<text transform="translate(137,386.3) rotate(-90)" text-anchor="middle" font-family='"Liberation Sans", sans-serif' font-size="10" fill="#000" textLength="19" lengthAdjust="spacingAndGlyphs" stroke="#000" stroke-width="0.2">&#916;VAF</text>
<rect x="238" y="481" width="5.8" height="5.8" fill="#9fc0df"/>
<text x="246.6" y="486.8" font-family='"Liberation Sans", sans-serif' font-size="8.8" fill="#2a2a2a" textLength="11.2" lengthAdjust="spacingAndGlyphs" stroke="#2a2a2a" stroke-width="0.2">CR</text>
<rect x="267" y="481" width="5.8" height="5.8" fill="#e0854f"/>
<text x="276" y="486.8" font-family='"Liberation Sans", sans-serif' font-size="8.8" fill="#2a2a2a" textLength="9.9" lengthAdjust="spacingAndGlyphs" stroke="#2a2a2a" stroke-width="0.2">PR</text>
<rect x="295" y="481" width="5.8" height="5.8" fill="#b92520"/>
<text x="303.8" y="486.8" font-family='"Liberation Sans", sans-serif' font-size="8.8" fill="#2a2a2a" textLength="11.4" lengthAdjust="spacingAndGlyphs" stroke="#2a2a2a" stroke-width="0.2">NR</text></svg>
</body></html>
